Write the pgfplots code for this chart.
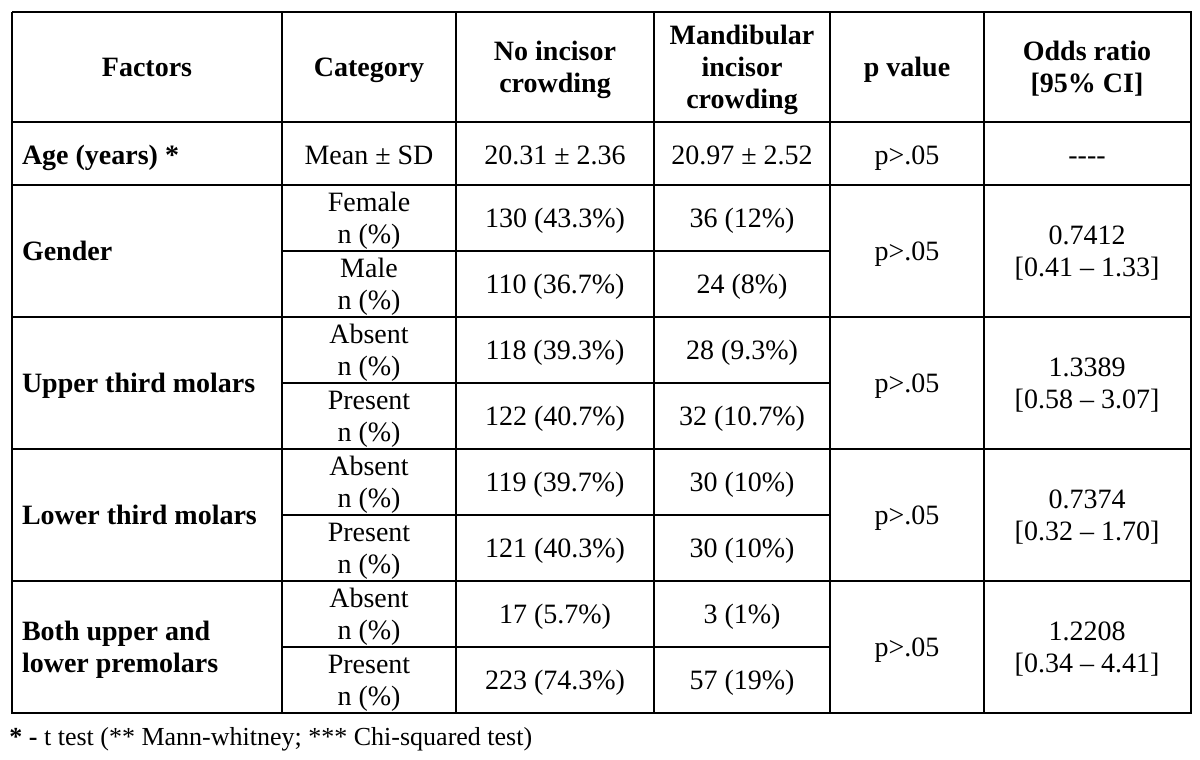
\documentclass[border=0pt]{standalone}
\usepackage{fontspec}
\setmainfont{Liberation Serif}
\usepackage{pgfplots}
\pgfplotsset{compat=1.18}
\tikzset{
  t/.style={inner sep=0pt, outer sep=0pt, anchor=base, font=\fontsize{14}{16}\selectfont},
  b/.style={inner sep=0pt, outer sep=0pt, anchor=base, font=\fontsize{14}{16}\selectfont\bfseries},
  bl/.style={inner sep=0pt, outer sep=0pt, anchor=base west, font=\fontsize{14}{16}\selectfont\bfseries},
}
\begin{document}
\begin{tikzpicture}
\begin{axis}[
  width=600pt, height=380pt, scale only axis,
  xmin=0, xmax=1200, ymin=0, ymax=760, y dir=reverse,
  hide axis, clip=false,
]
\path (axis cs:0,0) rectangle (axis cs:1200,760);
% outer frame
\addplot[black, line width=1.4pt, line join=miter, mark=none] coordinates {(12,12) (1191,12) (1191,713) (12,713) (12,12)};
% vertical column lines
\addplot[black, line width=1.1pt, mark=none] coordinates {(282,12) (282,713)};
\addplot[black, line width=1.1pt, mark=none] coordinates {(456,12) (456,713)};
\addplot[black, line width=1.1pt, mark=none] coordinates {(654,12) (654,713)};
\addplot[black, line width=1.1pt, mark=none] coordinates {(830,12) (830,713)};
\addplot[black, line width=1.1pt, mark=none] coordinates {(984,12) (984,713)};
% full horizontal lines
\addplot[black, line width=1.1pt, mark=none] coordinates {(12,122) (1191,122)};
\addplot[black, line width=1.1pt, mark=none] coordinates {(12,185) (1191,185)};
\addplot[black, line width=1.1pt, mark=none] coordinates {(12,317) (1191,317)};
\addplot[black, line width=1.1pt, mark=none] coordinates {(12,449) (1191,449)};
\addplot[black, line width=1.1pt, mark=none] coordinates {(12,581) (1191,581)};
% sub-row lines
\addplot[black, line width=1.1pt, mark=none] coordinates {(282,251) (830,251)};
\addplot[black, line width=1.1pt, mark=none] coordinates {(282,383) (830,383)};
\addplot[black, line width=1.1pt, mark=none] coordinates {(282,515) (830,515)};
\addplot[black, line width=1.1pt, mark=none] coordinates {(282,647) (830,647)};
% header
\node[b] at (axis cs:147,76.5) {Factors};
\node[b] at (axis cs:369,76.5) {Category};
\node[b] at (axis cs:555,60.5) {No incisor};
\node[b] at (axis cs:555,92.5) {crowding};
\node[b] at (axis cs:742,44.5) {Mandibular};
\node[b] at (axis cs:742,76.5) {incisor};
\node[b] at (axis cs:742,108.5) {crowding};
\node[b] at (axis cs:907,76.5) {p value};
\node[b] at (axis cs:1087,60.5) {Odds ratio};
\node[b] at (axis cs:1087,92.5) {{[}95\% CI{]}};
% age row
\node[bl] at (axis cs:22,164) {Age (years) *};
\node[t] at (axis cs:369,164) {Mean ± SD};
\node[t] at (axis cs:555,164) {20.31 ± 2.36};
\node[t] at (axis cs:742,164) {20.97 ± 2.52};
\node[t] at (axis cs:907,164) {p>.05};
\node[t] at (axis cs:1087,164) {-{}-{}-{}-};
% factor labels
\node[bl] at (axis cs:22,260.5) {Gender};
\node[bl] at (axis cs:22,392.5) {Upper third molars};
\node[bl] at (axis cs:22,524.5) {Lower third molars};
\node[bl] at (axis cs:22,640.5) {Both upper and};
\node[bl] at (axis cs:22,672.5) {lower premolars};
% categories
\node[t] at (axis cs:369,211.5) {Female};
\node[t] at (axis cs:369,243.5) {n (\%)};
\node[t] at (axis cs:369,277.5) {Male};
\node[t] at (axis cs:369,309.5) {n (\%)};
\node[t] at (axis cs:369,343.5) {Absent};
\node[t] at (axis cs:369,375.5) {n (\%)};
\node[t] at (axis cs:369,409.5) {Present};
\node[t] at (axis cs:369,441.5) {n (\%)};
\node[t] at (axis cs:369,475.5) {Absent};
\node[t] at (axis cs:369,507.5) {n (\%)};
\node[t] at (axis cs:369,541.5) {Present};
\node[t] at (axis cs:369,573.5) {n (\%)};
\node[t] at (axis cs:369,607.5) {Absent};
\node[t] at (axis cs:369,639.5) {n (\%)};
\node[t] at (axis cs:369,673.5) {Present};
\node[t] at (axis cs:369,705.5) {n (\%)};
% no incisor crowding
\node[t] at (axis cs:555,227.5) {130 (43.3\%)};
\node[t] at (axis cs:555,293.5) {110 (36.7\%)};
\node[t] at (axis cs:555,359.5) {118 (39.3\%)};
\node[t] at (axis cs:555,425.5) {122 (40.7\%)};
\node[t] at (axis cs:555,491.5) {119 (39.7\%)};
\node[t] at (axis cs:555,557.5) {121 (40.3\%)};
\node[t] at (axis cs:555,623.5) {17 (5.7\%)};
\node[t] at (axis cs:555,689.5) {223 (74.3\%)};
% mandibular incisor crowding
\node[t] at (axis cs:742,227.5) {36 (12\%)};
\node[t] at (axis cs:742,293.5) {24 (8\%)};
\node[t] at (axis cs:742,359.5) {28 (9.3\%)};
\node[t] at (axis cs:742,425.5) {32 (10.7\%)};
\node[t] at (axis cs:742,491.5) {30 (10\%)};
\node[t] at (axis cs:742,557.5) {30 (10\%)};
\node[t] at (axis cs:742,623.5) {3 (1\%)};
\node[t] at (axis cs:742,689.5) {57 (19\%)};
% p values
\node[t] at (axis cs:907,260.5) {p>.05};
\node[t] at (axis cs:907,392.5) {p>.05};
\node[t] at (axis cs:907,524.5) {p>.05};
\node[t] at (axis cs:907,656.5) {p>.05};
% odds ratios
\node[t] at (axis cs:1087,244.5) {0.7412};
\node[t] at (axis cs:1087,276.5) {{[}0.41 – 1.33{]}};
\node[t] at (axis cs:1087,376.5) {1.3389};
\node[t] at (axis cs:1087,408.5) {{[}0.58 – 3.07{]}};
\node[t] at (axis cs:1087,508.5) {0.7374};
\node[t] at (axis cs:1087,540.5) {{[}0.32 – 1.70{]}};
\node[t] at (axis cs:1087,640.5) {1.2208};
\node[t] at (axis cs:1087,672.5) {{[}0.34 – 4.41{]}};
% footnote
\node[inner sep=0pt, anchor=base west, font=\fontsize{13}{15}\selectfont] at (axis cs:9,745) {\textbf{* -} t test (** Mann-whitney; *** Chi-squared test)};
\end{axis}
\end{tikzpicture}
\end{document}
